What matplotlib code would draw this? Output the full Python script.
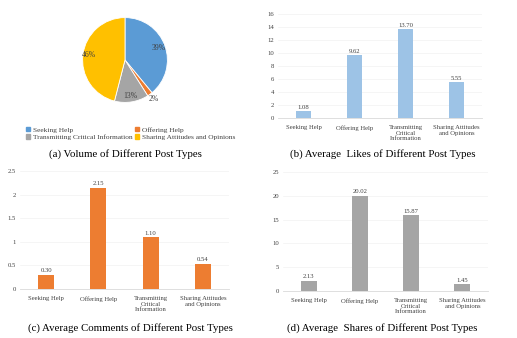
import numpy as np
import matplotlib.pyplot as plt

plt.rcParams['font.family'] = ['Liberation Serif', 'DejaVu Serif']

W, H = 517, 338

categories = ["Seeking Help", "Offering Help", "Transmitting Critical Information",
              "Sharing Attitudes and Opinions"]
tick_labels = ["Seeking Help", "Offering Help", "Transmitting\nCritical\nInformation",
               "Sharing Attitudes\nand Opinions"]
volume_pct = [39, 2, 13, 46]
avg_likes = [1.08, 9.62, 13.70, 5.55]
avg_comments = [0.30, 2.15, 1.10, 0.54]
avg_comment_labels = ["0.30", "2.15", "1.10", "0.54"]
avg_shares = [2.13, 20.02, 15.87, 1.45]

pie_colors = ["#5B9BD5", "#ED7D31", "#A5A5A5", "#FFC000"]


def px_axes(fig, x0, y0, x1, y1):
    # pixel box (top-left origin) -> figure fraction
    return fig.add_axes([x0 / W, 1 - y1 / H, (x1 - x0) / W, (y1 - y0) / H])


def bar_panel(ax, values, color, yticks, ylabels, vlabels):
    x = np.arange(len(values))
    ax.bar(x, values, width=0.31, color=color, zorder=3)
    ax.set_xlim(-0.5, len(values) - 0.5)
    ax.set_ylim(yticks[0], yticks[-1])
    ax.set_yticks(yticks)
    ax.set_yticklabels(ylabels)
    ax.set_xticks(x)
    ax.set_xticklabels(tick_labels, fontsize=4.8, color="#404040", linespacing=1.15)
    ax.tick_params(axis="y", length=0, labelsize=4.8, colors="#404040", pad=3)
    ax.tick_params(axis="x", length=0, labelsize=4.8, colors="#404040", pad=5)
    for s in ["top", "right", "left"]:
        ax.spines[s].set_visible(False)
    ax.spines["bottom"].set_color("#D9D9D9")
    ax.spines["bottom"].set_linewidth(0.6)
    ax.yaxis.grid(True, color="#F2F2F2", linewidth=0.5, zorder=0)
    span = yticks[-1] - yticks[0]
    for xi, v, lab in zip(x, values, vlabels):
        ax.text(xi, v + span * 0.012, lab, ha="center", va="bottom",
                fontsize=4.8, color="#404040")


fig = plt.figure(figsize=(W / 100, H / 100), dpi=100)

# (a) pie
ax_a = px_axes(fig, 72, 7, 178, 113)
wedges, _ = ax_a.pie(volume_pct, colors=pie_colors, startangle=90, counterclock=False,
                     wedgeprops=dict(edgecolor="white", linewidth=0.6))
ax_a.set_aspect("equal")
for w, p in zip(wedges, volume_pct):
    ang = np.deg2rad((w.theta1 + w.theta2) / 2)
    r = 1.15 if p < 5 else 0.85
    ax_a.text(r * np.cos(ang), r * np.sin(ang), f"{p}%", ha="center", va="center",
              fontsize=5.5, color="#404040")
handles = [plt.Rectangle((0, 0), 1, 1, color=c) for c in pie_colors]
order = [0, 2, 1, 3]  # legend fills column-wise; keep row order of the original
fig.legend([handles[i] for i in order], [categories[i] for i in order], ncol=2,
           loc="upper left", bbox_to_anchor=(22 / W, 1 - 123 / H), frameon=False,
           fontsize=5.3, handlelength=0.6, handleheight=0.6, handletextpad=0.4,
           columnspacing=0.3, labelspacing=0.25, borderpad=0, labelcolor="#404040")
fig.text(125 / W, 1 - 154 / H, "(a) Volume of Different Post Types",
         ha="center", va="center", fontsize=7.8)

# (b) likes
ax_b = px_axes(fig, 278, 14, 482, 118)
bar_panel(ax_b, avg_likes, "#9DC3E6", list(range(0, 17, 2)),
          [str(t) for t in range(0, 17, 2)], [f"{v:.2f}" for v in avg_likes])
fig.text(383 / W, 1 - 154 / H, "(b) Average  Likes of Different Post Types",
         ha="center", va="center", fontsize=7.8)

# (c) comments
ax_c = px_axes(fig, 20, 171, 229, 289)
bar_panel(ax_c, avg_comments, "#ED7D31", [0, 0.5, 1, 1.5, 2, 2.5],
          ["0", "0.5", "1", "1.5", "2", "2.5"], avg_comment_labels)
fig.text(130 / W, 1 - 328 / H, "(c) Average Comments of Different Post Types",
         ha="center", va="center", fontsize=7.8)

# (d) shares
ax_d = px_axes(fig, 283, 172, 488, 291)
bar_panel(ax_d, avg_shares, "#A5A5A5", [0, 5, 10, 15, 20, 25],
          ["0", "5", "10", "15", "20", "25"], [f"{v:.2f}" for v in avg_shares])
fig.text(382 / W, 1 - 328 / H, "(d) Average  Shares of Different Post Types",
         ha="center", va="center", fontsize=7.8)

fig.savefig("out.png", dpi=100)
